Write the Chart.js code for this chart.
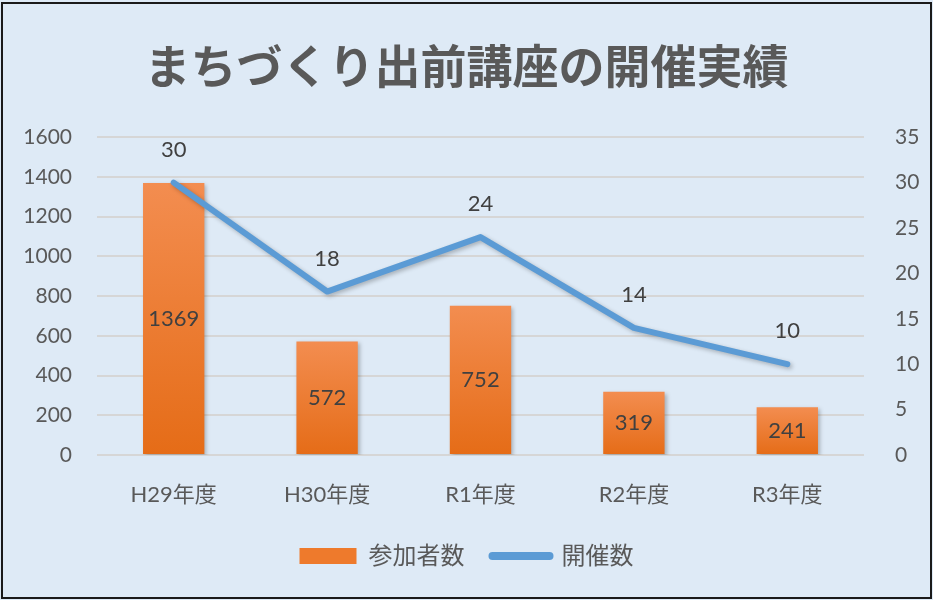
<!DOCTYPE html>
<html>
<head>
<meta charset="utf-8">
<script src="https://cdn.jsdelivr.net/npm/chart.js@4.4.0/dist/chart.umd.min.js"></script>
<style>
  html, body { margin: 0; padding: 0; background: #fff; }
</style>
</head>
<body>
<canvas id="jisseki" width="933" height="600"></canvas>
<script>
// data
const categories = ["H29年度", "H30年度", "R1年度", "R2年度", "R3年度"];
const participants = [1369, 572, 752, 319, 241];
const sessions = [30, 18, 24, 14, 10];
const leftTicks = [0, 200, 400, 600, 800, 1000, 1200, 1400, 1600];
const rightTicks = [0, 5, 10, 15, 20, 25, 30, 35];

const FONT = "Lato, 'Noto Sans CJK JP', sans-serif";
const GREY = "#595959";
const ORANGE = "#ee7a2c";
const BLUE = "#5b9bd5";

// page background + frame
const frame = {
  id: "frame",
  beforeDraw(chart) {
    const c = chart.ctx;
    c.save();
    c.fillStyle = "#deeaf6";
    c.fillRect(0, 0, chart.width, chart.height);
    c.strokeStyle = "#1a1a1a";
    c.lineWidth = 2;
    c.strokeRect(2, 3, chart.width - 4, chart.height - 5);
    c.restore();
  }
};

// soft shadow under bars and line
const shadow = {
  id: "shadow",
  beforeDatasetDraw(chart) {
    const c = chart.ctx;
    c.save();
    c.shadowColor = "rgba(0,0,0,0.25)";
    c.shadowBlur = 4;
    c.shadowOffsetX = 2;
    c.shadowOffsetY = 2;
  },
  afterDatasetDraw(chart) {
    chart.ctx.restore();
  }
};

// value labels (no datalabels plugin available)
const valueLabels = {
  id: "valueLabels",
  afterDatasetsDraw(chart) {
    const c = chart.ctx;
    c.save();
    c.font = "22px " + FONT;
    c.fillStyle = "#404040";
    c.textAlign = "center";
    c.textBaseline = "middle";
    chart.getDatasetMeta(0).data.forEach((bar, i) => {
      c.fillText(participants[i], bar.x, (bar.y + bar.base) / 2);
    });
    chart.getDatasetMeta(1).data.forEach((pt, i) => {
      c.fillText(sessions[i], pt.x, pt.y - 33);
    });
    c.restore();
  }
};

function barGradient(ctx) {
  const chart = ctx.chart;
  if (!chart.chartArea || ctx.type !== "data") return ORANGE;
  const y = chart.scales.y;
  const top = y.getPixelForValue(participants[ctx.dataIndex]);
  const bottom = y.getPixelForValue(0);
  const g = chart.ctx.createLinearGradient(0, top, 0, bottom);
  g.addColorStop(0, "#f38d50");
  g.addColorStop(1, "#e56c17");
  return g;
}

new Chart(document.getElementById("jisseki"), {
  type: "bar",
  data: {
    labels: categories,
    datasets: [
      {
        label: "参加者数",
        data: participants,
        backgroundColor: barGradient,
        borderWidth: 0,
        yAxisID: "y",
        order: 2,
        categoryPercentage: 1,
        barPercentage: 0.4
      },
      {
        type: "line",
        label: "開催数",
        data: sessions,
        borderColor: BLUE,
        backgroundColor: BLUE,
        borderWidth: 6,
        borderCapStyle: "round",
        borderJoinStyle: "round",
        pointRadius: 0,
        tension: 0,
        yAxisID: "y2",
        order: 1
      }
    ]
  },
  options: {
    responsive: false,
    animation: false,
    layout: { padding: { top: 20, left: 0, right: 0, bottom: 22 } },
    plugins: {
      title: {
        display: true,
        text: "まちづくり出前講座の開催実績",
        color: GREY,
        font: { family: "'Noto Sans CJK JP', sans-serif", size: 46, weight: "bold" },
        padding: { top: 18, bottom: 44 }
      },
      legend: {
        position: "bottom",
        labels: {
          usePointStyle: true,
          pointStyleWidth: 57,
          boxHeight: 16,
          padding: 28,
          color: GREY,
          font: { family: FONT, size: 24 },
          generateLabels(chart) {
            const ds = chart.data.datasets;
            return [
              { text: ds[0].label, fillStyle: ORANGE, strokeStyle: ORANGE, lineWidth: 0,
                pointStyle: "rect", datasetIndex: 0, fontColor: GREY },
              { text: ds[1].label, fillStyle: BLUE, strokeStyle: BLUE, lineWidth: 8,
                lineCap: "round", pointStyle: "line", datasetIndex: 1, fontColor: GREY }
            ];
          }
        }
      },
      tooltip: { enabled: false }
    },
    scales: {
      x: {
        afterFit: (s) => { s.height = 61; },
        grid: { display: false },
        border: { display: false },
        ticks: { color: GREY, font: { family: FONT, size: 22 }, padding: 19 }
      },
      y: {
        position: "left",
        min: 0,
        max: 1600,
        afterBuildTicks: (s) => { s.ticks = leftTicks.map((v) => ({ value: v })); },
        afterFit: (s) => { s.width = 97; },
        grid: { color: "#d6d6d6", lineWidth: 2, drawTicks: false },
        border: { display: false },
        ticks: { color: GREY, font: { family: FONT, size: 21 }, padding: 25, callback: (v) => String(v) }
      },
      y2: {
        position: "right",
        min: 0,
        max: 35,
        afterBuildTicks: (s) => { s.ticks = rightTicks.map((v) => ({ value: v })); },
        afterFit: (s) => { s.width = 69; },
        grid: { display: false },
        border: { display: false },
        ticks: { color: GREY, font: { family: FONT, size: 21 }, padding: 23, callback: (v) => String(v) }
      }
    }
  },
  plugins: [frame, shadow, valueLabels]
});
</script>
</body>
</html>
